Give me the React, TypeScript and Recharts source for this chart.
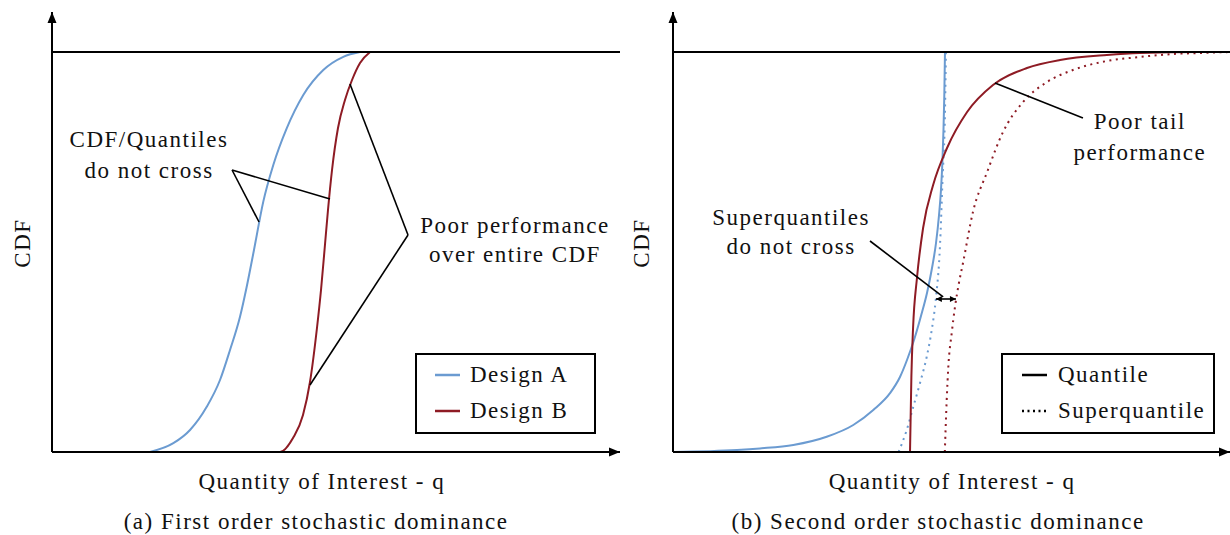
import React from "react";
import { LineChart, Line, XAxis, YAxis, ReferenceLine, ReferenceDot, Legend } from "recharts";

const FONT = "Liberation Serif";
const BLUE = "#6b9bd1";
const RED = "#8e1b24";

// (a) first order: CDF of both designs
const qDesignA = [1.725, 2.136, 2.43, 2.724, 2.958, 3.134, 3.31, 3.428, 3.556, 3.72, 3.896, 4.132, 4.424, 4.776, 5.129, 5.42];
const cdfDesignA = [0, 0.022, 0.055, 0.113, 0.18, 0.255, 0.338, 0.413, 0.505, 0.626, 0.7175, 0.809, 0.8925, 0.955, 0.988, 1];
const qDesignB = [3.54, 4.014, 4.243, 4.419, 4.542, 4.665, 4.736, 4.798, 4.859, 4.93, 5.035, 5.158, 5.282, 5.423, 5.6];
const cdfDesignB = [0, 0, 0.035, 0.0925, 0.175, 0.31, 0.405, 0.505, 0.605, 0.705, 0.81, 0.88, 0.93, 0.9725, 1];

// (b) second order: quantile and superquantile curves
const qQuantA = [0, 1.149, 1.562, 2.16, 2.759, 3.237, 3.596, 3.896, 4.075, 4.201, 4.327, 4.452, 4.56, 4.65, 4.722, 4.776, 4.811, 4.838, 4.856, 4.871, 4.883];
const cdfQuantA = [0, 0.005, 0.009, 0.0175, 0.038, 0.0675, 0.105, 0.147, 0.1875, 0.23, 0.28, 0.34, 0.3975, 0.46, 0.5225, 0.5925, 0.655, 0.73, 0.805, 0.8925, 1];
const qSuperA = [4.05, 4.196, 4.314, 4.434, 4.555, 4.645, 4.717, 4.794, 4.84, 4.883, 4.9];
const cdfSuperA = [0, 0.055, 0.113, 0.172, 0.238, 0.305, 0.38, 0.5175, 0.685, 0.85, 1];
const qQuantB = [4.255, 4.28, 4.31, 4.38, 4.49, 4.67, 4.92, 5.28, 5.745, 6.355, 6.95, 7.79, 8.38, 9.46, 10];
const cdfQuantB = [0, 0.19, 0.31, 0.435, 0.56, 0.6675, 0.76, 0.85, 0.9175, 0.96, 0.98, 0.9925, 0.9975, 1, 1];
const qSuperB = [4.88, 4.914, 4.943, 5.004, 5.063, 5.13, 5.21, 5.385, 5.64, 5.925, 6.285, 6.715, 7.18, 7.79, 8.38, 8.98, 9.46, 10];
const cdfSuperB = [0, 0.13, 0.213, 0.2975, 0.363, 0.42, 0.475, 0.6, 0.7, 0.8, 0.875, 0.925, 0.955, 0.9775, 0.9875, 0.995, 0.9975, 1];

const legendA = ["Design A", "Design B"];
const legendB = ["Quantile", "Superquantile"];
const xTitle = "Quantity of Interest - q";
const yTitle = "CDF";
const captionA = "(a) First order stochastic dominance";
const captionB = "(b) Second order stochastic dominance";

const zip = (qs: number[], cs: number[]) => qs.map((q, i) => ({ q, cdf: cs[i] }));

const textStyle = { fontFamily: FONT, fontSize: 23, letterSpacing: 1.5, fill: "#111" };

const note = (lines: string[], lh: number) => (p: any) => (
  <text x={p.cx} y={p.cy} textAnchor="middle" style={textStyle}>
    {lines.map((l, i) => (
      <tspan key={i} x={p.cx} dy={i ? lh : 0}>{l}</tspan>
    ))}
  </text>
);

const below = (label: string, dy: number) => (p: any) => (
  <text x={p.cx} y={p.cy + dy} textAnchor="middle" style={textStyle}>{label}</text>
);

const sideTitle = (dx: number) => (p: any) => (
  <text x={p.cx + dx} y={p.cy} textAnchor="middle" transform={`rotate(-90 ${p.cx + dx} ${p.cy})`} style={textStyle}>{yTitle}</text>
);

const arrowUp = (p: any) => <path d={`M${p.cx},${p.cy} L${p.cx - 4.5},${p.cy + 11} L${p.cx + 4.5},${p.cy + 11} Z`} fill="#000" />;
const arrowRight = (p: any) => <path d={`M${p.cx},${p.cy} L${p.cx - 11},${p.cy - 4.5} L${p.cx - 11},${p.cy + 4.5} Z`} fill="#000" />;

const doubleArrow = (p: any) => {
  const { x1, y1, x2, y2 } = p;
  return (
    <g>
      <line x1={x1} y1={y1} x2={x2} y2={y2} stroke="#000" strokeWidth={1.6} />
      <path d={`M${x1},${y1} L${x1 + 6},${y1 - 3} L${x1 + 6},${y1 + 3} Z`} fill="#000" />
      <path d={`M${x2},${y2} L${x2 - 6},${y2 - 3} L${x2 - 6},${y2 + 3} Z`} fill="#000" />
    </g>
  );
};

type Item = { label: string; color: string; dash?: string };

const LegendBox = ({ items, pad, gap }: { items: Item[]; pad: number; gap: number }) => (
  <div style={{ boxSizing: "border-box", width: "100%", height: "100%", border: "2px solid #000", background: "#fff", paddingTop: 2, paddingLeft: pad }}>
    {items.map((it) => (
      <div key={it.label} style={{ display: "flex", alignItems: "center", height: 36 }}>
        <svg width={25} height={6} style={{ marginRight: gap }}>
          <line x1={0} y1={3} x2={25} y2={3} stroke={it.color} strokeWidth={2.5} strokeDasharray={it.dash} />
        </svg>
        <span style={{ fontFamily: FONT, fontSize: 23, letterSpacing: 1.5, color: "#111", lineHeight: "36px" }}>{it.label}</span>
      </div>
    ))}
  </div>
);

const seg = (a: number[], b: number[]) => [{ x: a[0], y: a[1] }, { x: b[0], y: b[1] }] as any;
const ann = { stroke: "#000", strokeWidth: 1.6, ifOverflow: "visible" as const };

export default function App() {
  const axes = [
    <XAxis key="x" type="number" dataKey="q" domain={[0, 10]} allowDataOverflow hide />,
    <YAxis key="y" type="number" dataKey="cdf" domain={[0, 1.1]} allowDataOverflow hide />,
  ];
  const frame = [
    <ReferenceLine key="top" y={1} stroke="#000" strokeWidth={2} ifOverflow="visible" />,
    <ReferenceLine key="xa" segment={seg([0, 0], [10, 0])} stroke="#000" strokeWidth={2} ifOverflow="visible" />,
    <ReferenceLine key="ya" segment={seg([0, 0], [0, 1.1])} stroke="#000" strokeWidth={2} ifOverflow="visible" />,
    <ReferenceDot key="au" x={0} y={1.1} shape={arrowUp} ifOverflow="visible" />,
    <ReferenceDot key="ar" x={10} y={0} shape={arrowRight} ifOverflow="visible" />,
  ];
  return (
    <div style={{ position: "absolute", left: 0, top: 0, width: 1230, height: 535, background: "#fff" }}>
      <div style={{ position: "absolute", left: 0, top: 0 }}>
        <LineChart width={620} height={535} margin={{ top: 12, right: 0, bottom: 83, left: 52 }}>
          {axes}
          <Line data={zip(qDesignA, cdfDesignA)} dataKey="cdf" name="Design A" type="monotone" stroke={BLUE} strokeWidth={2} dot={false} activeDot={false} isAnimationActive={false} />
          <Line data={zip(qDesignB, cdfDesignB)} dataKey="cdf" name="Design B" type="monotone" stroke={RED} strokeWidth={2} dot={false} activeDot={false} isAnimationActive={false} />
          {frame}
          <ReferenceLine segment={seg([3.17, 0.705], [3.645, 0.575])} {...ann} />
          <ReferenceLine segment={seg([3.17, 0.705], [4.894, 0.6325])} {...ann} />
          <ReferenceLine segment={seg([6.268, 0.5425], [5.246, 0.92])} {...ann} />
          <ReferenceLine segment={seg([6.268, 0.5425], [4.542, 0.1675])} {...ann} />
          <ReferenceDot x={1.708} y={0.7625} shape={note(["CDF/Quantiles", "do not cross"], 31)} ifOverflow="visible" />
          <ReferenceDot x={8.15} y={0.5475} shape={note(["Poor performance", "over entire CDF"], 29)} ifOverflow="visible" />
          <ReferenceDot x={4.75} y={0} shape={below(xTitle, 37)} ifOverflow="visible" />
          <ReferenceDot x={4.65} y={0} shape={below(captionA, 77)} ifOverflow="visible" />
          <ReferenceDot x={0} y={0.5225} shape={sideTitle(-22)} ifOverflow="visible" />
          <Legend
            layout="horizontal"
            verticalAlign="middle"
            align="center"
            wrapperStyle={{ position: "absolute", left: 415, top: 353, width: 181, height: 81 }}
            content={() => <LegendBox pad={18} gap={10} items={[{ label: legendA[0], color: BLUE }, { label: legendA[1], color: RED }]} />}
          />
        </LineChart>
      </div>
      <div style={{ position: "absolute", left: 620, top: 0 }}>
        <LineChart width={610} height={535} margin={{ top: 12, right: 0, bottom: 83, left: 53 }}>
          {axes}
          <Line data={zip(qQuantA, cdfQuantA)} dataKey="cdf" name="A quantile" type="monotone" stroke={BLUE} strokeWidth={2} dot={false} activeDot={false} isAnimationActive={false} />
          <Line data={zip(qSuperA, cdfSuperA)} dataKey="cdf" name="A superquantile" type="monotone" stroke={BLUE} strokeWidth={2} strokeDasharray="2 4.5" dot={false} activeDot={false} isAnimationActive={false} />
          <Line data={zip(qQuantB, cdfQuantB)} dataKey="cdf" name="B quantile" type="monotone" stroke={RED} strokeWidth={2} dot={false} activeDot={false} isAnimationActive={false} />
          <Line data={zip(qSuperB, cdfSuperB)} dataKey="cdf" name="B superquantile" type="monotone" stroke={RED} strokeWidth={2} strokeDasharray="2 4.5" dot={false} activeDot={false} isAnimationActive={false} />
          {frame}
          <ReferenceLine segment={seg([3.537, 0.5275], [4.85, 0.388])} {...ann} />
          <ReferenceLine segment={seg([4.72, 0.3825], [5.08, 0.3825])} shape={doubleArrow} ifOverflow="visible" />
          <ReferenceLine segment={seg([7.36, 0.835], [5.78, 0.9225])} {...ann} />
          <ReferenceDot x={2.12} y={0.5675} shape={note(["Superquantiles", "do not cross"], 29)} ifOverflow="visible" />
          <ReferenceDot x={8.38} y={0.8075} shape={note(["Poor tail", "performance"], 31)} ifOverflow="visible" />
          <ReferenceDot x={5.01} y={0} shape={below(xTitle, 37)} ifOverflow="visible" />
          <ReferenceDot x={4.76} y={0} shape={below(captionB, 77)} ifOverflow="visible" />
          <ReferenceDot x={0} y={0.5225} shape={sideTitle(-24)} ifOverflow="visible" />
          <Legend
            layout="horizontal"
            verticalAlign="middle"
            align="center"
            wrapperStyle={{ position: "absolute", left: 381, top: 353, width: 214, height: 81 }}
            content={() => <LegendBox pad={19} gap={11} items={[{ label: legendB[0], color: "#000" }, { label: legendB[1], color: "#000", dash: "2 3.5" }]} />}
          />
        </LineChart>
      </div>
    </div>
  );
}
